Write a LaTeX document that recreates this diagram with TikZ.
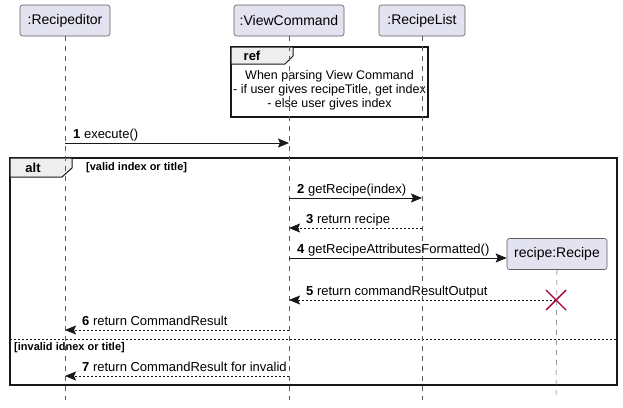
\documentclass[tikz,border=0pt]{standalone}
\usepackage{fontspec}
\setmainfont{Liberation Sans}
\usetikzlibrary{arrows.meta,calc}
\definecolor{partfill}{HTML}{E2E2F0}
\definecolor{partline}{HTML}{181818}
\definecolor{tabfill}{HTML}{EEEEEE}
\definecolor{xred}{HTML}{A80036}
\tikzset{
  part/.style={draw=partline!70, fill=partfill, rounded corners=2.5pt, line width=0.6pt,
    minimum height=31pt, inner xsep=5pt, font=\fontsize{14}{16}\selectfont},
  life/.style={draw=partline!70, line width=0.5pt, dash pattern=on 5pt off 5pt},
  msg/.style={draw=partline, line width=0.8pt, -{Stealth[length=11pt,width=9pt,inset=2pt]}},
  ret/.style={draw=partline, line width=0.8pt, dash pattern=on 2pt off 2pt, -{Stealth[length=11pt,width=9pt,inset=2pt]}},
  lbl/.style={anchor=base west, inner sep=0pt, font=\fontsize{13}{15}\selectfont},
  frame/.style={draw=partline, line width=1.3pt},
  tab/.style={draw=partline, line width=1pt, fill=tabfill},
  guard/.style={inner sep=0pt, font=\fontsize{11}{13}\selectfont\bfseries},
}
\newcommand{\num}[1]{\textbf{#1}}
\begin{document}
\begin{tikzpicture}[x=1pt,y=-1pt]
\useasboundingbox (0,0) rectangle (623,407);
% participants
\node[part, minimum width=90pt] (rp) at (65,20.5) {:Recipeditor};
\node[part, minimum width=110pt] (vc) at (289,20.5) {:ViewCommand};
\node[part, minimum width=86pt] (rl) at (422,20.5) {:RecipeList};
\node[part, minimum width=100pt] (rc) at (557,254) {recipe:Recipe};
% lifeline ends
\coordinate (rpE) at (65,400);
\coordinate (vcE) at (289,400);
\coordinate (rlE) at (422,400);
\coordinate (rcE) at (556,400);
% ref box
\draw[line width=1.2pt, draw=partline] (231,47) rectangle (428,117);
\draw[tab] (231,47) -- (293,47) -- (293,56) -- (285,64) -- (231,64) -- cycle;
\node[inner sep=0pt, font=\fontsize{13}{15}\selectfont\bfseries] (reft) at (252,56) {ref};
\node[inner sep=0pt, align=center, font=\fontsize{12.5}{14.2}\selectfont] (refbody) at (329.5,90.5)
  {When parsing View Command\\- if user gives recipeTitle, get index\\- else user gives index};
% alt frame
\draw[frame] (10,158) rectangle (617,385);
\draw[tab] (10,158) -- (72,158) -- (72,168) -- (62,177) -- (10,177) -- cycle;
\node[inner sep=0pt, font=\fontsize{13}{15}\selectfont\bfseries] (altt) at (33,168) {alt};
\node[guard, anchor=west] (g1) at (86,168) {[valid index or title]};
\draw[draw=partline, line width=0.8pt, dash pattern=on 2pt off 2pt] (10,339) -- (617,339);
\node[guard, anchor=west] (g2) at (14,347.5) {[invalid idnex or title]};
% lifelines
\draw[life] (rp.south) -- (rpE);
\draw[life] (vc.south) -- (vcE);
\draw[life] (rl.south) -- (rlE);
\draw[life] (rc.south) -- (rcE);
% message anchor coordinates
\coordinate (a1) at (65,143);  \coordinate (b1) at (289,143);
\coordinate (a2) at (289,198); \coordinate (b2) at (422,198);
\coordinate (a3) at (422,228); \coordinate (b3) at (289,228);
\coordinate (a4) at (289,258);
\coordinate (a5) at (556,300); \coordinate (b5) at (289,300);
\coordinate (a6) at (289,330); \coordinate (b6) at (65,330);
\coordinate (a7) at (289,376); \coordinate (b7) at (65,376);
% messages
\draw[msg] (a1) -- (b1);
\node[lbl] (l1) at (73,138) {\num{1} execute()};
\draw[msg] (a2) -- (b2);
\node[lbl] (l2) at (297,193) {\num{2} getRecipe(index)};
\draw[ret] (a3) -- (b3);
\node[lbl] (l3) at (306,223.5) {\num{3} return recipe};
\draw[msg] (a4) -- (rc.west |- a4);
\node[lbl] (l4) at (297,253) {\num{4} getRecipeAttributesFormatted()};
\draw[ret] (a5) -- (b5);
\node[lbl] (l5) at (306,295.5) {\num{5} return commandResultOutput};
\draw[ret] (a6) -- (b6);
\node[lbl] (l6) at (82,325.5) {\num{6} return CommandResult};
\draw[ret] (a7) -- (b7);
\node[lbl] (l7) at (82,371.5) {\num{7} return CommandResult for invalid};
% destroy
\draw[xred, line width=1.4pt] ($(a5)+(-10,-10)$) -- ($(a5)+(10,10)$);
\draw[xred, line width=1.4pt] ($(a5)+(-10,10)$) -- ($(a5)+(10,-10)$);
\end{tikzpicture}
\end{document}
